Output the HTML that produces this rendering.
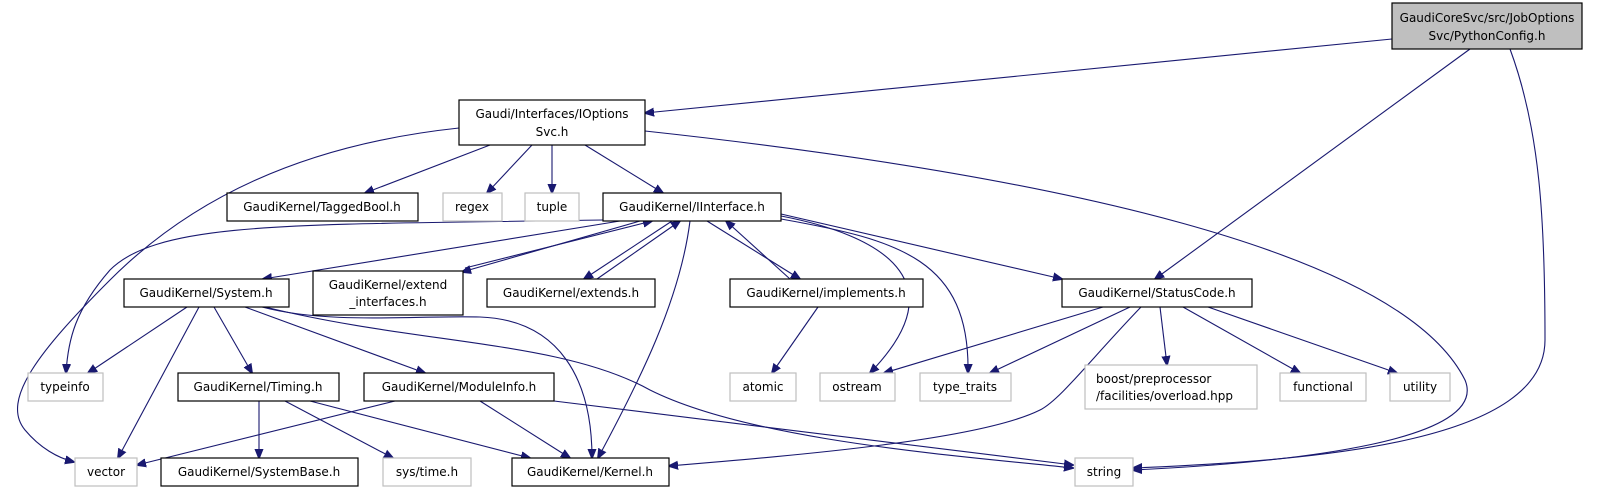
<!DOCTYPE html>
<html><head><meta charset="utf-8"><style>
html,body{margin:0;padding:0;background:#fff}
svg{display:block}
text{font-family:"DejaVu Sans","Liberation Sans",sans-serif;font-size:12px;fill:#000}
.n{fill:#fff;stroke:#000;stroke-width:1.2}
.g{fill:#fff;stroke:#bfbfbf;stroke-width:1.2}
.e{fill:none;stroke:#191970;stroke-width:1.1}
</style></head><body>
<svg width="1609" height="493" viewBox="0 0 1609 493" xmlns="http://www.w3.org/2000/svg">
<defs><marker id="a" viewBox="0 0 10 10" refX="9" refY="5" markerWidth="10" markerHeight="10" markerUnits="userSpaceOnUse" orient="auto"><path d="M0,1 L10,5 L0,9 z" fill="#191970" stroke="#191970"/></marker></defs>
<g class="e" marker-end="url(#a)">
<path d="M1392,39 L645,113"/>
<path d="M1470,49 L1155,279"/>
<path d="M1510,49 C1540,130 1545,220 1545,340 C1545,440 1330,460 1133,468"/>
<path d="M459,128 C300,145 190,200 110,280 C40,350 0,400 25,430 C40,448 58,458 74,462"/>
<path d="M490,145 L365,193"/>
<path d="M532,145 L487,193"/>
<path d="M552,145 L552,193"/>
<path d="M585,145 L663,193"/>
<path d="M645,131 C1050,175 1400,250 1465,380 C1490,440 1300,462 1133,470"/>
<path d="M603,220 C300,225 160,220 110,270 C75,310 68,340 66,373"/>
<path d="M620,221 L263,279"/>
<path d="M640,221 L462,272"/>
<path d="M465,268 L652,221"/>
<path d="M672,221 L584,279"/>
<path d="M597,279 L680,221"/>
<path d="M707,221 L800,279"/>
<path d="M790,279 L726,221"/>
<path d="M781,214 L1062,279"/>
<path d="M781,216 C880,235 960,280 870,373"/>
<path d="M781,219 C900,240 970,260 968,373"/>
<path d="M690,221 C680,300 640,380 598,458"/>
<path d="M187,307 L88,373"/>
<path d="M199,307 L118,458"/>
<path d="M214,307 L252,373"/>
<path d="M245,307 L425,373"/>
<path d="M262,307 C330,325 420,315 480,317 C560,320 592,380 592,458"/>
<path d="M265,307 C420,345 560,340 650,390 C750,440 950,455 1073,468"/>
<path d="M818,307 L772,373"/>
<path d="M259,401 L259,458"/>
<path d="M285,401 L393,458"/>
<path d="M310,401 L530,458"/>
<path d="M395,401 L137,465"/>
<path d="M480,401 L570,458"/>
<path d="M554,401 L1073,465"/>
<path d="M1103,307 L884,373"/>
<path d="M1130,307 L990,373"/>
<path d="M1160,307 L1167,365"/>
<path d="M1183,307 L1300,373"/>
<path d="M1208,307 L1397,373"/>
<path d="M1141,307 C1090,360 1060,400 1040,410 C980,440 800,455 669,466"/>
</g>
<rect x="1392" y="3" width="190" height="46" fill="#bfbfbf" stroke="#000" stroke-width="1.2"/>
<text x="1487" y="22" text-anchor="middle">GaudiCoreSvc/src/JobOptions</text>
<text x="1487" y="40" text-anchor="middle">Svc/PythonConfig.h</text>
<rect class="n" x="459" y="100" width="186" height="45"/>
<text x="552" y="118" text-anchor="middle">Gaudi/Interfaces/IOptions</text>
<text x="552" y="136" text-anchor="middle">Svc.h</text>
<rect class="n" x="227" y="193" width="191" height="28"/><text x="322" y="211" text-anchor="middle">GaudiKernel/TaggedBool.h</text>
<rect class="g" x="443" y="193" width="59" height="28"/><text x="472" y="211" text-anchor="middle">regex</text>
<rect class="g" x="525" y="193" width="54" height="28"/><text x="552" y="211" text-anchor="middle">tuple</text>
<rect class="n" x="603" y="193" width="178" height="28"/><text x="692" y="211" text-anchor="middle">GaudiKernel/IInterface.h</text>
<rect class="n" x="124" y="279" width="165" height="28"/><text x="206" y="297" text-anchor="middle">GaudiKernel/System.h</text>
<rect class="n" x="313" y="271" width="150" height="44"/>
<text x="388" y="289" text-anchor="middle">GaudiKernel/extend</text><text x="388" y="306" text-anchor="middle">_interfaces.h</text>
<rect class="n" x="487" y="279" width="168" height="28"/><text x="571" y="297" text-anchor="middle">GaudiKernel/extends.h</text>
<rect class="n" x="730" y="279" width="193" height="28"/><text x="826" y="297" text-anchor="middle">GaudiKernel/implements.h</text>
<rect class="n" x="1062" y="279" width="190" height="28"/><text x="1157" y="297" text-anchor="middle">GaudiKernel/StatusCode.h</text>
<rect class="g" x="28" y="373" width="75" height="28"/><text x="65" y="391" text-anchor="middle">typeinfo</text>
<rect class="n" x="178" y="373" width="161" height="28"/><text x="258" y="391" text-anchor="middle">GaudiKernel/Timing.h</text>
<rect class="n" x="364" y="373" width="190" height="28"/><text x="459" y="391" text-anchor="middle">GaudiKernel/ModuleInfo.h</text>
<rect class="g" x="730" y="373" width="66" height="28"/><text x="763" y="391" text-anchor="middle">atomic</text>
<rect class="g" x="820" y="373" width="75" height="28"/><text x="857" y="391" text-anchor="middle">ostream</text>
<rect class="g" x="920" y="373" width="91" height="28"/><text x="965" y="391" text-anchor="middle">type_traits</text>
<rect class="g" x="1085" y="365" width="172" height="44"/>
<text x="1096" y="383">boost/preprocessor</text><text x="1096" y="400">/facilities/overload.hpp</text>
<rect class="g" x="1280" y="373" width="86" height="28"/><text x="1323" y="391" text-anchor="middle">functional</text>
<rect class="g" x="1390" y="373" width="60" height="28"/><text x="1420" y="391" text-anchor="middle">utility</text>
<rect class="g" x="75" y="458" width="62" height="28"/><text x="106" y="476" text-anchor="middle">vector</text>
<rect class="n" x="161" y="458" width="197" height="28"/><text x="259" y="476" text-anchor="middle">GaudiKernel/SystemBase.h</text>
<rect class="g" x="383" y="458" width="88" height="28"/><text x="427" y="476" text-anchor="middle">sys/time.h</text>
<rect class="n" x="512" y="458" width="157" height="28"/><text x="590" y="476" text-anchor="middle">GaudiKernel/Kernel.h</text>
<rect class="g" x="1075" y="458" width="58" height="28"/><text x="1104" y="476" text-anchor="middle">string</text>
</svg>
</body></html>
